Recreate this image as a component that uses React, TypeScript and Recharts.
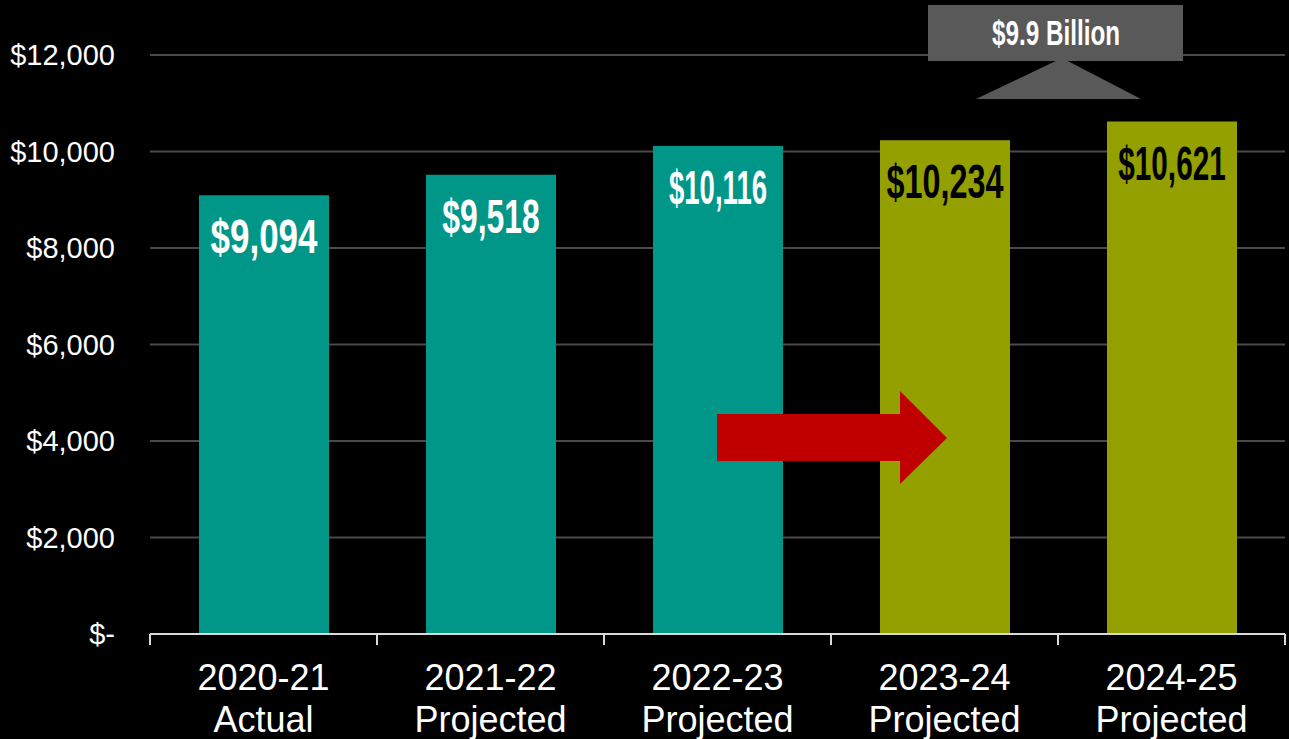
import React from "react"
import { BarChart, Bar, XAxis, YAxis, CartesianGrid, Cell, LabelList } from "recharts"

const years = ["2020-21", "2021-22", "2022-23", "2023-24", "2024-25"]
const statuses = ["Actual", "Projected", "Projected", "Projected", "Projected"]
const spending = [9094, 9518, 10116, 10234, 10621]
const yTicks = [0, 2000, 4000, 6000, 8000, 10000, 12000]
const calloutText = "$9.9 Billion"

const TEAL = "#009688"
const OLIVE = "#94A000"
const SANS = "'Liberation Sans', Arial, sans-serif"

const data = years.map((year, i) => ({
  year,
  status: statuses[i],
  value: spending[i],
}))

const barColor = (i: number) => (i < 3 ? TEAL : OLIVE)
const labelColor = (i: number) => (i < 3 ? "#ffffff" : "#000000")

const fmtDollar = (v: number) => (v === 0 ? "$-" : "$" + v.toLocaleString("en-US"))

// the original uses a tall condensed face; squeeze a bold sans to mimic it
const narrowWidth = (s: string) =>
  s.split("").reduce((w, ch) => w + (ch === "1" ? 10 : ch === "," || ch === "." ? 9.5 : ch === " " ? 7 : 19.5), 0)

const BAND = 227

function XTick(props: any) {
  const { x, y, payload, index } = props
  const d = data[index] ?? data[0]
  return (
    <g>
      <line x1={x - BAND / 2} x2={x - BAND / 2} y1={y - 8} y2={y + 3} stroke="#d9d9d9" strokeWidth={2} />
      {index === data.length - 1 && (
        <line x1={x + BAND / 2} x2={x + BAND / 2} y1={y - 8} y2={y + 3} stroke="#d9d9d9" strokeWidth={2} />
      )}
      <text x={x} y={y + 48} textAnchor="middle" fill="#ffffff" fontSize={36} fontFamily={SANS}>
        {payload.value}
      </text>
      <text x={x} y={y + 90} textAnchor="middle" fill="#ffffff" fontSize={36} fontFamily={SANS}>
        {d.status}
      </text>
    </g>
  )
}

function ValueLabel(props: any) {
  const { x, y, width, value, index } = props
  const s = "$" + Number(value).toLocaleString("en-US")
  return (
    <text
      x={x + width / 2}
      y={y + 41}
      textAnchor="middle"
      dominantBaseline="central"
      fill={labelColor(index)}
      fontSize={49}
      fontWeight="bold"
      fontFamily={SANS}
      textLength={narrowWidth(s)}
      lengthAdjust="spacingAndGlyphs"
    >
      {s}
    </text>
  )
}

export default function App() {
  return (
    <div style={{ position: "absolute", left: 0, top: 0, width: 1289, height: 739, background: "#000" }}>
      <BarChart width={1289} height={739} data={data} margin={{ top: 55, right: 4, left: 0, bottom: 0 }}>
        <CartesianGrid vertical={false} stroke="#4a4a4a" strokeWidth={2} />
        <XAxis
          dataKey="year"
          height={105}
          axisLine={{ stroke: "#d9d9d9", strokeWidth: 2 }}
          tickLine={false}
          tick={<XTick />}
          interval={0}
        />
        <YAxis
          width={150}
          domain={[0, 12000]}
          ticks={yTicks}
          tickFormatter={fmtDollar}
          axisLine={false}
          tickLine={false}
          tickSize={0}
          tickMargin={35}
          tick={{ fill: "#ffffff", fontSize: 29, fontFamily: SANS }}
        />
        <Bar dataKey="value" barSize={130} isAnimationActive={false}>
          {data.map((d, i) => (
            <Cell key={d.year} fill={barColor(i)} />
          ))}
          <LabelList dataKey="value" content={<ValueLabel />} />
        </Bar>
      </BarChart>
      <svg width={1289} height={739} style={{ position: "absolute", left: 0, top: 0, pointerEvents: "none" }}>
        <polygon points="717,414 900,414 900,391 947,438 900,484 900,461 717,461" fill="#C00000" />
        <polygon points="976,99 1141,99 1062,58" fill="#595959" />
        <rect x={928} y={5} width={255} height={56} fill="#595959" />
        <text
          x={1056}
          y={32}
          textAnchor="middle"
          dominantBaseline="central"
          fill="#ffffff"
          fontSize={35}
          fontWeight="bold"
          fontFamily={SANS}
          textLength={128}
          lengthAdjust="spacingAndGlyphs"
        >
          {calloutText}
        </text>
      </svg>
    </div>
  )
}
